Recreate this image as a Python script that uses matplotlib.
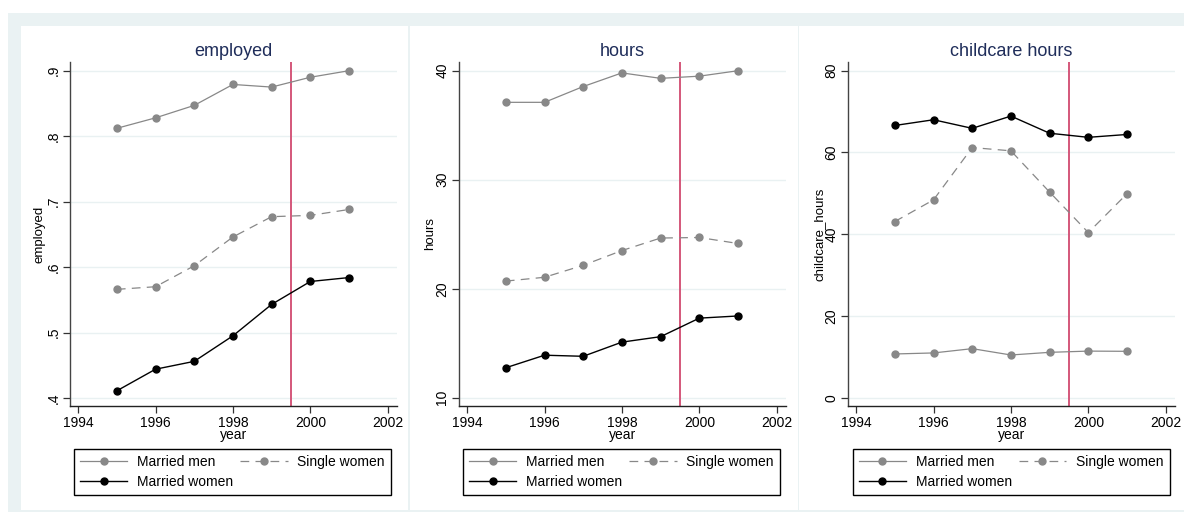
import matplotlib
matplotlib.use("Agg")
import matplotlib.pyplot as plt
from matplotlib.patches import Rectangle

# ---------------- data ----------------
years = [1995, 1996, 1997, 1998, 1999, 2000, 2001]

emp_married_men = [0.812, 0.828, 0.847, 0.879, 0.875, 0.890, 0.900]
emp_single_women = [0.566, 0.570, 0.602, 0.646, 0.677, 0.679, 0.688]
emp_married_women = [0.411, 0.444, 0.456, 0.495, 0.543, 0.578, 0.584]

hrs_married_men = [37.1, 37.1, 38.55, 39.8, 39.3, 39.5, 40.0]
hrs_single_women = [20.7, 21.05, 22.15, 23.5, 24.65, 24.7, 24.15]
hrs_married_women = [12.75, 13.9, 13.8, 15.1, 15.6, 17.3, 17.5]

cc_married_men = [10.7, 10.95, 12.0, 10.45, 11.1, 11.4, 11.35]
cc_single_women = [43.1, 48.4, 61.2, 60.4, 50.3, 40.4, 49.9]
cc_married_women = [66.6, 68.0, 65.9, 68.9, 64.7, 63.7, 64.4]

titles = ["employed", "hours", "childcare hours"]
ylabels = ["employed", "hours", "childcare_hours"]
series_names = ["Married men", "Single women", "Married women"]

x_ticks = [1994, 1996, 1998, 2000, 2002]
x_ticklabels = ["1994", "1996", "1998", "2000", "2002"]
y_ticks = [[0.4, 0.5, 0.6, 0.7, 0.8, 0.9], [10, 20, 30, 40], [0, 20, 40, 60, 80]]
y_ticklabels = [[".4", ".5", ".6", ".7", ".8", ".9"], ["10", "20", "30", "40"],
                ["0", "20", "40", "60", "80"]]
reform_year = 1999.5

panels = [
    (emp_married_men, emp_single_women, emp_married_women),
    (hrs_married_men, hrs_single_women, hrs_married_women),
    (cc_married_men, cc_single_women, cc_married_women),
]

# ---------------- style ----------------
plt.rcParams['font.family'] = ['Liberation Sans', 'DejaVu Sans']
W, H = 1184, 514
fig = plt.figure(figsize=(W / 100, H / 100), dpi=100)
fig.patch.set_facecolor("white")

BAND = "#EAF2F3"
GRID = "#E9F1F2"
GRAY = "#888888"
RED = "#D4577A"
TITLE = "#1F2D5A"


def fx(px):
    return px / W


def fy(py):
    return 1 - py / H


# outer band
fig.patches.append(Rectangle((fx(8), fy(512)), fx(W) - fx(8), fy(13) - fy(512),
                             transform=fig.transFigure, facecolor=BAND,
                             edgecolor="none", zorder=-10))
# panel whites
for x0, x1 in [(21, 408.5), (410, 797.5), (799, 1184)]:
    fig.patches.append(Rectangle((fx(x0), fy(510)), fx(x1) - fx(x0), fy(26) - fy(510),
                                 transform=fig.transFigure, facecolor="white",
                                 edgecolor="none", zorder=-9))

ax_left = [70, 459, 848]
ax_w = 327
ax_top, ax_bot = 62, 406
ylims = [(0.3878, 0.9133), (9.24, 40.8), (-2.03, 82.13)]
xlim = (1993.79, 2002.24)
legend_left = [74, 463, 852.5]
legend_w = 317
ylabel_off = [25, 23, 22]

for i in range(3):
    ax = fig.add_axes([fx(ax_left[i]), fy(ax_bot), ax_w / W, (ax_bot - ax_top) / H])
    ax.set_facecolor("none")
    men, single, mw = panels[i]
    l1, = ax.plot(years, men, color=GRAY, lw=0.9, marker='o', ms=5, zorder=3,
                  label=series_names[0])
    l2, = ax.plot(years, single, color=GRAY, lw=0.9, marker='o', ms=5, zorder=3,
                  dashes=(7, 5), label=series_names[1])
    l3, = ax.plot(years, mw, color="black", lw=1.0, marker='o', ms=5, zorder=3,
                  label=series_names[2])
    ax.axvline(reform_year, color=RED, lw=1.4, zorder=2)

    ax.set_xlim(*xlim)
    ax.set_ylim(*ylims[i])
    ax.set_xticks(x_ticks, x_ticklabels, fontsize=10)
    ax.set_yticks(y_ticks[i], y_ticklabels[i], fontsize=10, rotation=90, va='center')
    ax.tick_params(axis='both', direction='out', length=5, width=0.9, color="#333333",
                   pad=2)
    ax.grid(axis='y', color=GRID, lw=1.0, zorder=0)
    ax.set_axisbelow(True)
    for s in ["top", "right"]:
        ax.spines[s].set_visible(False)
    ax.spines["left"].set_color("#444444")
    ax.spines["bottom"].set_color("#222222")
    ax.spines["left"].set_linewidth(1.0)
    ax.spines["bottom"].set_linewidth(1.0)

    ax.set_title(titles[i], color=TITLE, fontsize=13, pad=4)
    ax.set_xlabel("year", fontsize=10, labelpad=-1)
    ax.set_ylabel(ylabels[i], fontsize=9.5)
    ax.yaxis.set_label_coords(-ylabel_off[i] / ax_w, 0.5)

    lh = 0.01
    leg = ax.legend(handles=[l1, l3, l2], ncol=2, fontsize=10,
                    loc='upper left',
                    bbox_to_anchor=(fx(legend_left[i]), fy(449) - lh, legend_w / W, lh),
                    bbox_transform=fig.transFigure, mode='expand', borderaxespad=0,
                    frameon=True, fancybox=False, framealpha=1, edgecolor="black",
                    handlelength=3.4, handletextpad=0.7, columnspacing=2.0,
                    labelspacing=0.4, borderpad=0.45)
    leg.get_frame().set_linewidth(1.0)

fig.savefig("out.png", dpi=100, facecolor=fig.get_facecolor())
